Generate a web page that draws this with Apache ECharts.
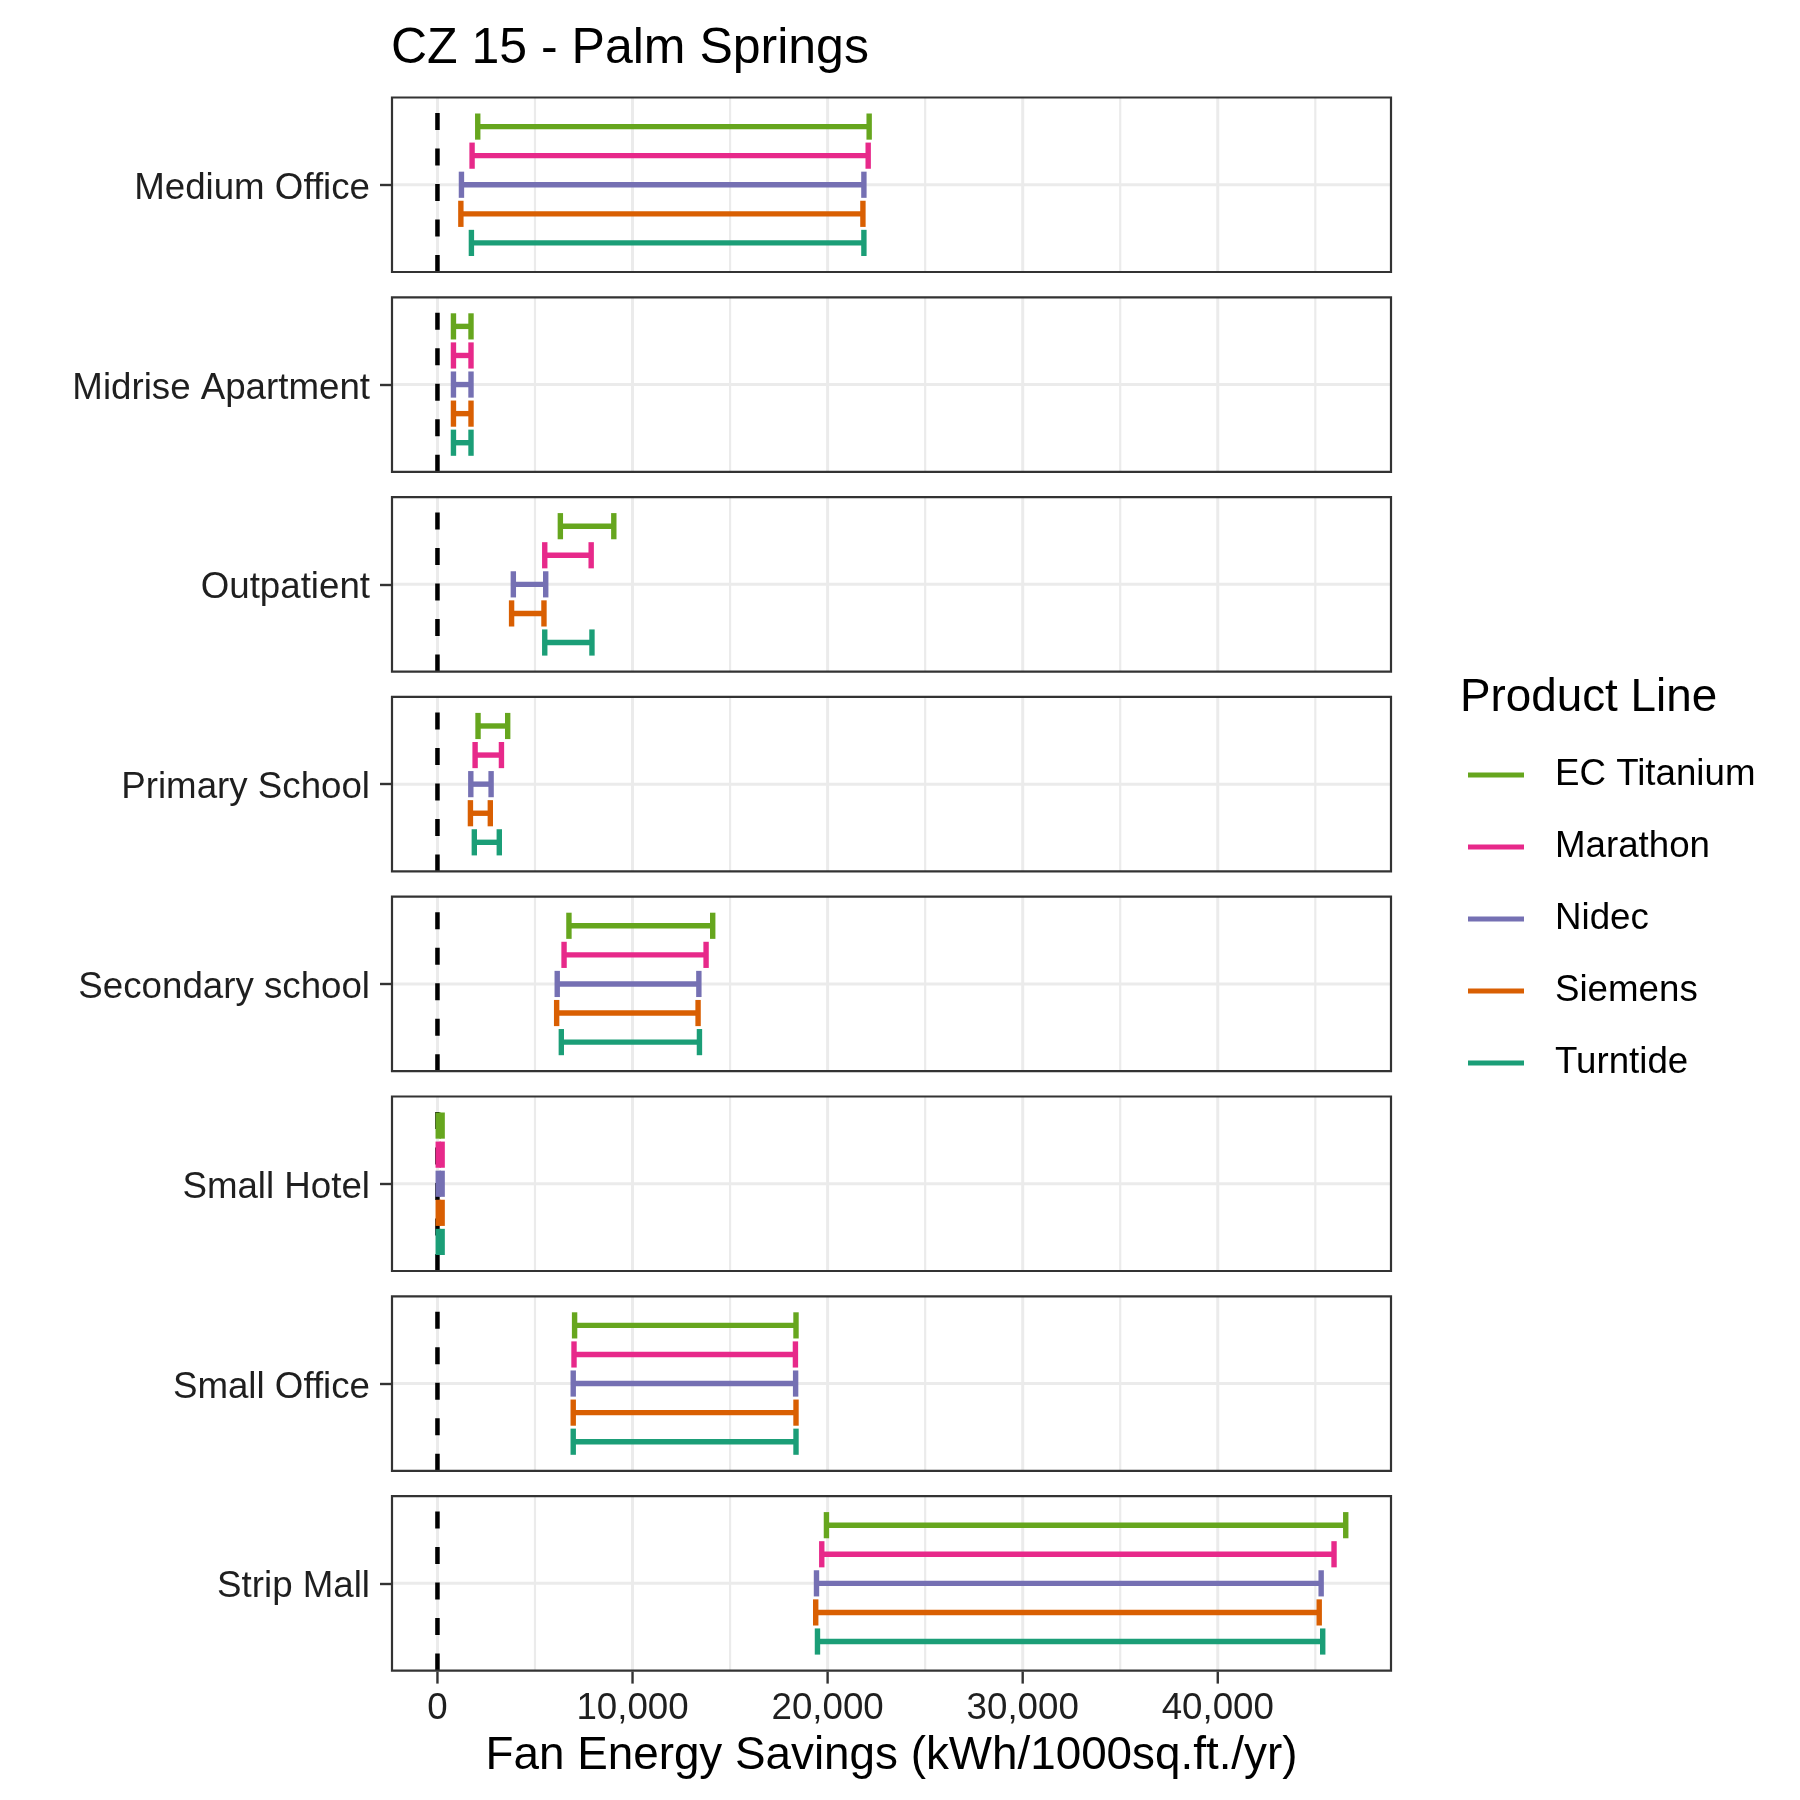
<!DOCTYPE html>
<html><head><meta charset="utf-8">
<script src="https://cdn.jsdelivr.net/npm/echarts@6/dist/echarts.min.js"></script>
<style>html,body{margin:0;padding:0;background:#fff}#c{width:1800px;height:1800px}</style>
</head><body><div id="c"></div>
<script>
const buildings = ['Medium Office','Midrise Apartment','Outpatient','Primary School','Secondary school','Small Hotel','Small Office','Strip Mall'];
const products = ['EC Titanium','Marathon','Nidec','Siemens','Turntide'];
const productColors = ['#66A61E','#E7298A','#7570B3','#D95F02','#1B9E77'];
// lower / upper savings per product, in building order
const ecTitaniumLow  = [2065, 820, 6300, 2080, 6740, 40, 7030, 19940];
const ecTitaniumHigh = [22130, 1720, 9040, 3600, 14110, 240, 18380, 46560];
const marathonLow    = [1775, 820, 5500, 1930, 6490, 40, 7000, 19700];
const marathonHigh   = [22080, 1720, 7880, 3280, 13770, 240, 18350, 45960];
const nidecLow       = [1230, 820, 3890, 1710, 6140, 40, 6960, 19430];
const nidecHigh      = [21860, 1720, 5550, 2750, 13400, 240, 18360, 45300];
const siemensLow     = [1200, 820, 3800, 1690, 6110, 40, 6960, 19390];
const siemensHigh    = [21810, 1720, 5460, 2710, 13360, 240, 18380, 45200];
const turntideLow    = [1740, 820, 5500, 1890, 6350, 40, 6960, 19480];
const turntideHigh   = [21860, 1720, 7920, 3170, 13430, 240, 18380, 45380];
const xTickValues = [0, 10000, 20000, 30000, 40000];
const xMinorValues = [5000, 15000, 25000, 35000, 45000];
const refLineValue = 0;

const lows = [ecTitaniumLow, marathonLow, nidecLow, siemensLow, turntideLow];
const highs = [ecTitaniumHigh, marathonHigh, nidecHigh, siemensHigh, turntideHigh];

const FONT = 'Liberation Sans, Arial, sans-serif';
const TXT = '#1F1F1F';
const X_MIN = -2330, X_MAX = 48880;
const Y_MIN = -0.6, Y_MAX = 0.6;
const PANEL_LEFT = 392, PANEL_W = 999, PANEL_TOP0 = 97.5, PANEL_STEP = 199.8, PANEL_H = 174.5;
const TICK_LEN = 12;

const grids = [], xAxes = [], yAxes = [], series = [];
const nP = buildings.length;
buildings.forEach((b, i) => {
  const last = i === nP - 1;
  grids.push({left: PANEL_LEFT, width: PANEL_W, top: PANEL_TOP0 + PANEL_STEP * i, height: PANEL_H,
    show: true, borderColor: '#333333', borderWidth: 2.2, backgroundColor: 'transparent', z: 10});
  xAxes.push({type: 'value', gridIndex: i, min: X_MIN, max: X_MAX, interval: 10000,
    axisLine: {show: false}, splitLine: {show: false},
    axisTick: {show: false},
    axisLabel: {show: last, customValues: xTickValues, margin: 20, fontSize: 36.7, color: TXT, fontFamily: FONT,
      formatter: v => Number(v).toLocaleString('en-US')},
    name: last ? 'Fan Energy Savings (kWh/1000sq.ft./yr)' : '', nameLocation: 'middle', nameGap: 63,
    nameTextStyle: {fontSize: 45.8, color: '#000', fontFamily: FONT}
  });
  yAxes.push({type: 'value', gridIndex: i, min: Y_MIN, max: Y_MAX, interval: 0.6,
    axisLine: {show: true, onZero: false, lineStyle: {color: 'rgba(0,0,0,0)', width: 0}}, splitLine: {show: false},
    axisTick: {show: true, length: TICK_LEN, lineStyle: {color: '#333333', width: 2.4}, customValues: [0]},
    axisLabel: {customValues: [0], margin: 22, fontSize: 36.7, color: TXT, fontFamily: FONT,
      formatter: () => '{a|' + b + '}',
      rich: {a: {fontSize: 36.7, color: TXT, fontFamily: FONT, padding: [8, 0, 0, 0]}}}
  });
  // gridlines
  const gl = xTickValues.map(v => [v, 3]).concat(xMinorValues.map(v => [v, 2.2]));
  series.push({type: 'custom', xAxisIndex: i, yAxisIndex: i, z: 1, silent: true, data: gl,
    renderItem: (params, api) => {
      const v = api.value(0), w = api.value(1);
      const p1 = api.coord([v, Y_MIN]), p2 = api.coord([v, Y_MAX]);
      const children = [{type: 'line', shape: {x1: p1[0], y1: p1[1], x2: p2[0], y2: p2[1]},
        style: {stroke: '#EBEBEB', lineWidth: w}}];
      if (params.dataIndex === 0) {
        const h1 = api.coord([X_MIN, 0]), h2 = api.coord([X_MAX, 0]);
        children.push({type: 'line', shape: {x1: h1[0], y1: h1[1], x2: h2[0], y2: h2[1]},
          style: {stroke: '#EBEBEB', lineWidth: 3}});
      }
      return {type: 'group', children};
    }
  });
  // reference dashed line at 0
  series.push({type: 'custom', xAxisIndex: i, yAxisIndex: i, z: 2, silent: true, data: [[refLineValue]],
    renderItem: (params, api) => {
      const v = api.value(0);
      const p1 = api.coord([v, Y_MIN]), p2 = api.coord([v, Y_MAX]);
      return {type: 'line', shape: {x1: p1[0], y1: p1[1], x2: p2[0], y2: p2[1]},
        style: {stroke: '#000', lineWidth: 4.5, lineDash: [17, 18.5]}};
    }
  });
  // error bars
  products.forEach((p, k) => {
    const dodge = 0.4 - 0.2 * k;
    series.push({type: 'custom', name: p, xAxisIndex: i, yAxisIndex: i, z: 3,
      itemStyle: {color: productColors[k]},
      encode: {x: [0, 1], y: 2},
      data: [[lows[k][i], highs[k][i], dodge]],
      renderItem: (params, api) => {
        const lo = api.value(0), hi = api.value(1), y = api.value(2);
        const cap = 0.09;
        const c = api.visual('color');
        const st = {stroke: c, lineWidth: 5.4, lineCap: 'butt'};
        const a = api.coord([lo, y]), bb = api.coord([hi, y]);
        const lt = api.coord([lo, y + cap]), lb = api.coord([lo, y - cap]);
        const rt = api.coord([hi, y + cap]), rb = api.coord([hi, y - cap]);
        return {type: 'group', children: [
          {type: 'line', shape: {x1: a[0], y1: a[1], x2: bb[0], y2: bb[1]}, style: st},
          {type: 'line', shape: {x1: lt[0], y1: lt[1], x2: lb[0], y2: lb[1]}, style: st},
          {type: 'line', shape: {x1: rt[0], y1: rt[1], x2: rb[0], y2: rb[1]}, style: st}
        ]};
      }
    });
  });
});

const chart = echarts.init(document.getElementById('c'), null, {renderer: 'canvas'});
chart.setOption({
  backgroundColor: '#ffffff',
  animation: false,
  textStyle: {fontFamily: FONT},
  title: [
    {text: 'CZ 15 - Palm Springs', left: 391, top: 24, padding: 0,
      textStyle: {fontSize: 50, fontWeight: 'normal', color: '#000', fontFamily: FONT}},
    {text: 'Product Line', left: 1460, top: 675, padding: 0,
      textStyle: {fontSize: 45.8, fontWeight: 'normal', color: '#000', fontFamily: FONT}}
  ],
  legend: {orient: 'vertical', left: 1468, top: 755, padding: 0, itemWidth: 56, itemHeight: 5, itemGap: 32,
    icon: 'rect', data: products, selectedMode: false,
    textStyle: {fontSize: 36.7, color: '#000', fontFamily: FONT, lineHeight: 40, padding: [0, 0, 0, 26]}},
  grid: grids, xAxis: xAxes, yAxis: yAxes, series: series
});

// bottom-axis tick marks, positioned through the last panel's axes
try {
  const li = nP - 1;
  const yBottom = chart.convertToPixel({yAxisIndex: li}, Y_MIN);
  const tickGraphics = xTickValues.map(v => {
    const x = chart.convertToPixel({xAxisIndex: li}, v);
    return {type: 'line', z: 100, silent: true,
      shape: {x1: x, y1: yBottom + 1, x2: x, y2: yBottom + 1 + TICK_LEN},
      style: {stroke: '#333333', lineWidth: 2.4}};
  });
  chart.setOption({graphic: tickGraphics});
} catch (e) { console.error(e); }
</script></body></html>
